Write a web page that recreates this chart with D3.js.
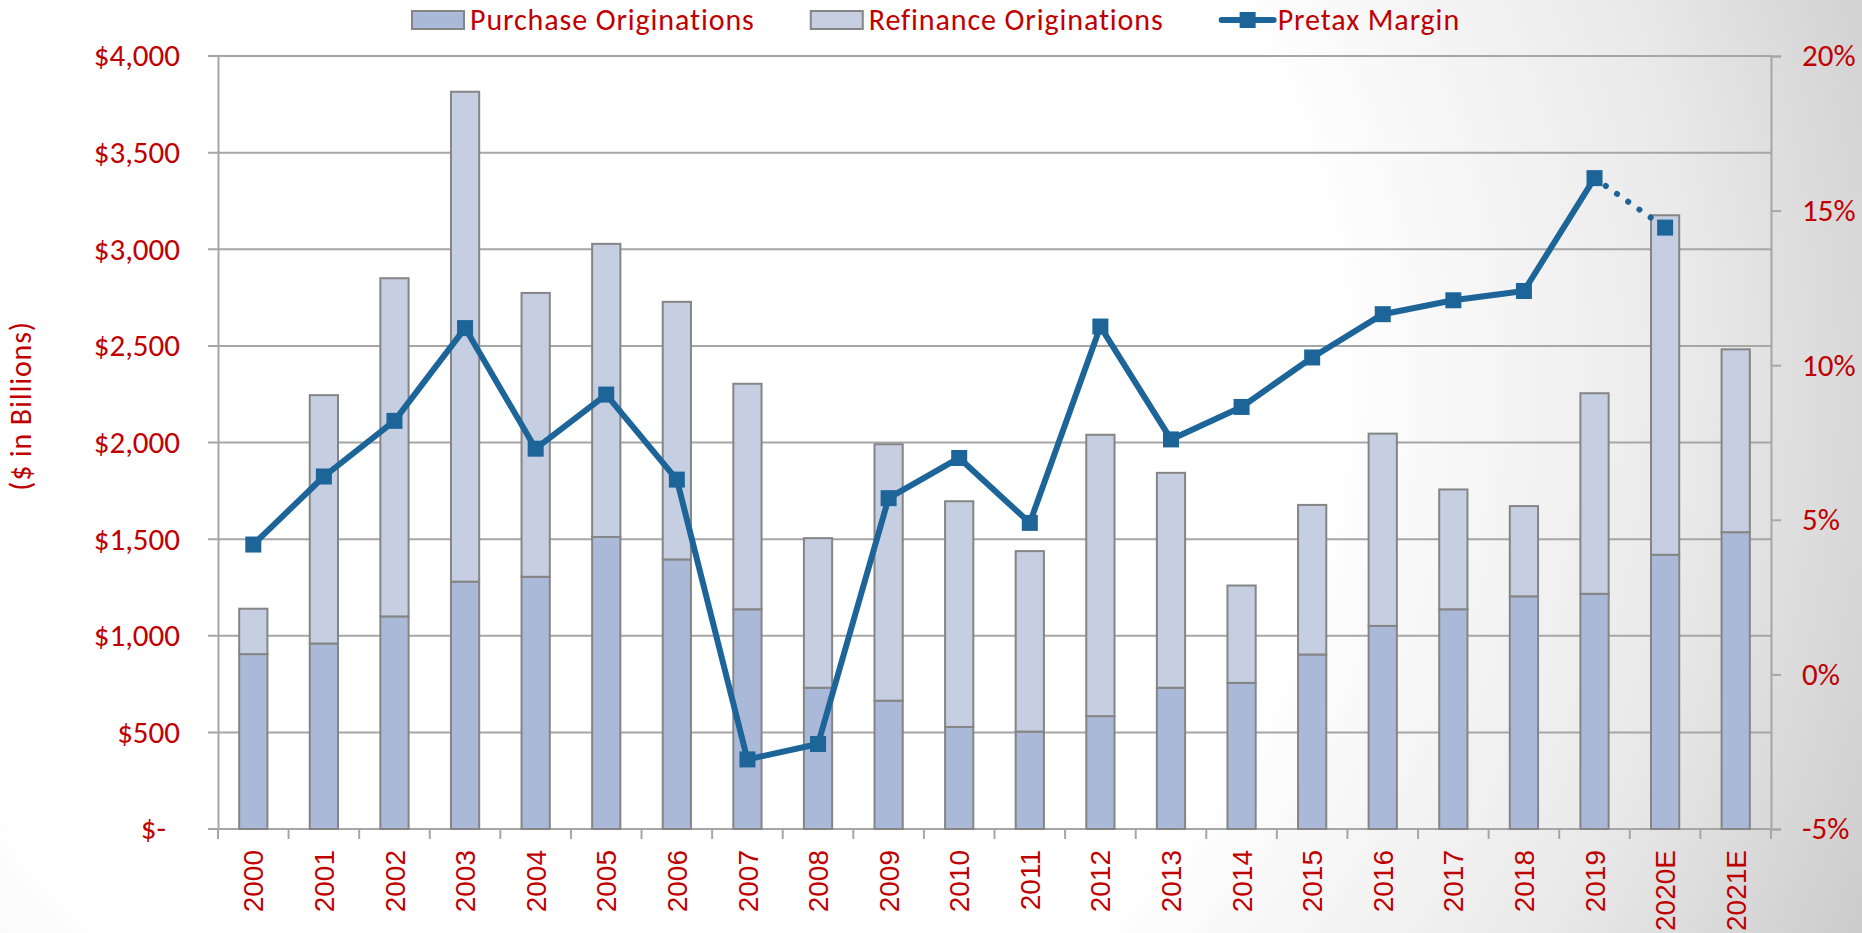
<!DOCTYPE html>
<html>
<head>
<meta charset="utf-8">
<script src="https://cdn.jsdelivr.net/npm/d3@7"></script>
<style>
  html, body { margin: 0; padding: 0; overflow: hidden; }
  body { width: 1862px; height: 933px; }
</style>
</head>
<body>
<div id="chart"></div>
<script>
// data ($ billions, margin in %)
const years = ["2000","2001","2002","2003","2004","2005","2006","2007","2008","2009","2010",
               "2011","2012","2013","2014","2015","2016","2017","2018","2019","2020E","2021E"];
const purchase = [905, 960, 1100, 1280, 1305, 1511, 1395, 1137, 731, 664, 528,
                  504, 584, 731, 756, 903, 1051, 1137, 1204, 1217, 1419, 1536];
const refinance = [235, 1285, 1750, 2535, 1469, 1517, 1333, 1167, 774, 1327, 1168,
                   934, 1456, 1112, 504, 774, 995, 620, 467, 1038, 1757, 946];
const margin = [4.2, 6.4, 8.2, 11.2, 7.3, 9.05, 6.3, -2.75, -2.25, 5.7, 7.0,
                4.9, 11.25, 7.6, 8.65, 10.25, 11.65, 12.1, 12.4, 16.05, 14.45, null];
const leftTicks = [0, 500, 1000, 1500, 2000, 2500, 3000, 3500, 4000];
const rightTicks = [-5, 0, 5, 10, 15, 20];
const seriesNames = ["Purchase Originations", "Refinance Originations", "Pretax Margin"];

const W = 1862, H = 933;
const m = { top: 56, right: 91, bottom: 104, left: 218 };
const red = "#C00000";
const lineBlue = "#1D6499";
const uiFont = "Carlito, Lato, 'Open Sans', sans-serif";

const svg = d3.select("#chart").append("svg")
    .attr("width", W)
    .attr("height", H)
    .style("font-family", uiFont);

// background gradient (white to grey on the right)
const defs = svg.append("defs");
const grad = defs.append("radialGradient")
    .attr("id", "bg")
    .attr("gradientUnits", "userSpaceOnUse")
    .attr("cx", 600).attr("cy", 380).attr("r", 1450);
grad.append("stop").attr("offset", "0.5").attr("stop-color", "#ffffff");
grad.append("stop").attr("offset", "0.75").attr("stop-color", "#eaeaea");
grad.append("stop").attr("offset", "1").attr("stop-color", "#c4c4c4");
svg.append("rect").attr("width", W).attr("height", H).attr("fill", "url(#bg)");

const x = d3.scaleBand().domain(years).range([m.left, W - m.right]).paddingInner(0);
const y = d3.scaleLinear().domain([0, 4000]).range([H - m.bottom, m.top]);
const y2 = d3.scaleLinear().domain([-5, 20]).range([H - m.bottom, m.top]);
const barW = x.bandwidth() * 0.4;

// gridlines
svg.append("g")
    .selectAll("line")
    .data(leftTicks)
    .join("line")
    .attr("x1", m.left - 10)
    .attr("x2", W - m.right)
    .attr("y1", d => y(d))
    .attr("y2", d => y(d))
    .attr("stroke", "#a6a6a6")
    .attr("stroke-width", 2);

// left axis
const yAxis = d3.axisLeft(y)
    .tickValues(leftTicks)
    .tickSize(0)
    .tickPadding(38)
    .tickFormat(d => d === 0 ? "$-" : "$" + d3.format(",")(d));
const gy = svg.append("g").attr("transform", `translate(${m.left},0)`).call(yAxis);
gy.select(".domain").attr("stroke", "#a6a6a6").attr("stroke-width", 2);
gy.selectAll("text").attr("fill", red).style("font-size", "31px").style("font-family", uiFont);
gy.selectAll(".tick").filter(d => d === 0).select("text").attr("dx", -14);

// right axis
const yAxis2 = d3.axisRight(y2)
    .tickValues(rightTicks)
    .tickSize(10)
    .tickPadding(21)
    .tickFormat(d => d + "%");
const gy2 = svg.append("g").attr("transform", `translate(${W - m.right},0)`).call(yAxis2);
gy2.select(".domain").attr("stroke", "#a6a6a6").attr("stroke-width", 2);
gy2.selectAll("line").attr("stroke", "#a6a6a6").attr("stroke-width", 2);
gy2.selectAll("text").attr("fill", red).style("font-size", "31px").style("font-family", uiFont);

// bottom axis
const gx = svg.append("g").attr("transform", `translate(0,${H - m.bottom})`);
gx.append("line")
    .attr("x1", m.left).attr("x2", W - m.right)
    .attr("stroke", "#a6a6a6").attr("stroke-width", 2);
gx.selectAll(".tk")
    .data(years.concat(["end"]))
    .join("line")
    .attr("class", "tk")
    .attr("x1", (d, i) => m.left + i * x.step())
    .attr("x2", (d, i) => m.left + i * x.step())
    .attr("y1", 0).attr("y2", 10)
    .attr("stroke", "#a6a6a6").attr("stroke-width", 2);
gx.selectAll("text")
    .data(years)
    .join("text")
    .attr("transform", d => `translate(${x(d) + x.bandwidth() / 2},21) rotate(-90)`)
    .attr("text-anchor", "end")
    .attr("dy", "0.36em")
    .attr("fill", red)
    .style("font-family", "'Liberation Sans', Arial, sans-serif")
    .style("font-size", "28px")
    .text(d => d);

// stacked bars
const stackRows = years.map((yr, i) => ({ year: yr, purchase: purchase[i], refinance: refinance[i] }));
const stacked = d3.stack().keys(["purchase", "refinance"])(stackRows);
const fills = { purchase: "#A9B9D7", refinance: "#C5CFE1" };
svg.append("g")
    .selectAll("g")
    .data(stacked)
    .join("g")
    .attr("fill", d => fills[d.key])
    .selectAll("rect")
    .data(d => d)
    .join("rect")
    .attr("x", d => x(d.data.year) + (x.bandwidth() - barW) / 2)
    .attr("y", d => y(d[1]))
    .attr("width", barW)
    .attr("height", d => y(d[0]) - y(d[1]))
    .attr("stroke", "#858585")
    .attr("stroke-width", 2);

// pretax margin line
const pts = years.map((yr, i) => ({ year: yr, v: margin[i] })).filter(d => d.v !== null);
const cx = d => x(d.year) + x.bandwidth() / 2;
const line = d3.line().x(cx).y(d => y2(d.v));
const solidPts = pts.filter(d => d.year !== "2020E");
const dotPts = pts.slice(-2);
svg.append("path")
    .datum(solidPts)
    .attr("d", line)
    .attr("fill", "none")
    .attr("stroke", lineBlue)
    .attr("stroke-width", 6)
    .attr("stroke-linejoin", "round");
svg.append("path")
    .datum(dotPts)
    .attr("d", line)
    .attr("fill", "none")
    .attr("stroke", lineBlue)
    .attr("stroke-width", 6)
    .attr("stroke-linecap", "round")
    .attr("stroke-dasharray", "0.1 13.6");
svg.append("g")
    .selectAll("rect")
    .data(pts)
    .join("rect")
    .attr("x", d => cx(d) - 8)
    .attr("y", d => y2(d.v) - 8)
    .attr("width", 16)
    .attr("height", 16)
    .attr("fill", lineBlue);

// y axis title
svg.append("text")
    .attr("transform", "translate(31,406) rotate(-90)")
    .attr("text-anchor", "middle")
    .attr("fill", red)
    .style("font-size", "30px")
    .style("letter-spacing", "0.85px")
    .text("($ in Billions)");

// legend
const legend = svg.append("g").attr("transform", "translate(412,20)");
let lx = 0;
seriesNames.forEach((name, i) => {
    const item = legend.append("g").attr("transform", `translate(${lx},0)`);
    if (i < 2) {
        item.append("rect")
            .attr("x", 0).attr("y", -9)
            .attr("width", 52).attr("height", 18)
            .attr("fill", i === 0 ? fills.purchase : fills.refinance)
            .attr("stroke", "#858585")
            .attr("stroke-width", 2);
    } else {
        item.append("line")
            .attr("x1", 2).attr("x2", 54)
            .attr("stroke", lineBlue).attr("stroke-width", 6)
            .attr("stroke-linecap", "round");
        item.append("rect")
            .attr("x", 20).attr("y", -8)
            .attr("width", 16).attr("height", 16)
            .attr("fill", lineBlue);
    }
    const t = item.append("text")
        .attr("x", 58)
        .attr("y", 10)
        .attr("fill", red)
        .style("font-size", "30px")
        .style("letter-spacing", "0.9px")
        .text(name);
    lx += 58 + t.node().getComputedTextLength() + 56;
});
</script>
</body>
</html>
